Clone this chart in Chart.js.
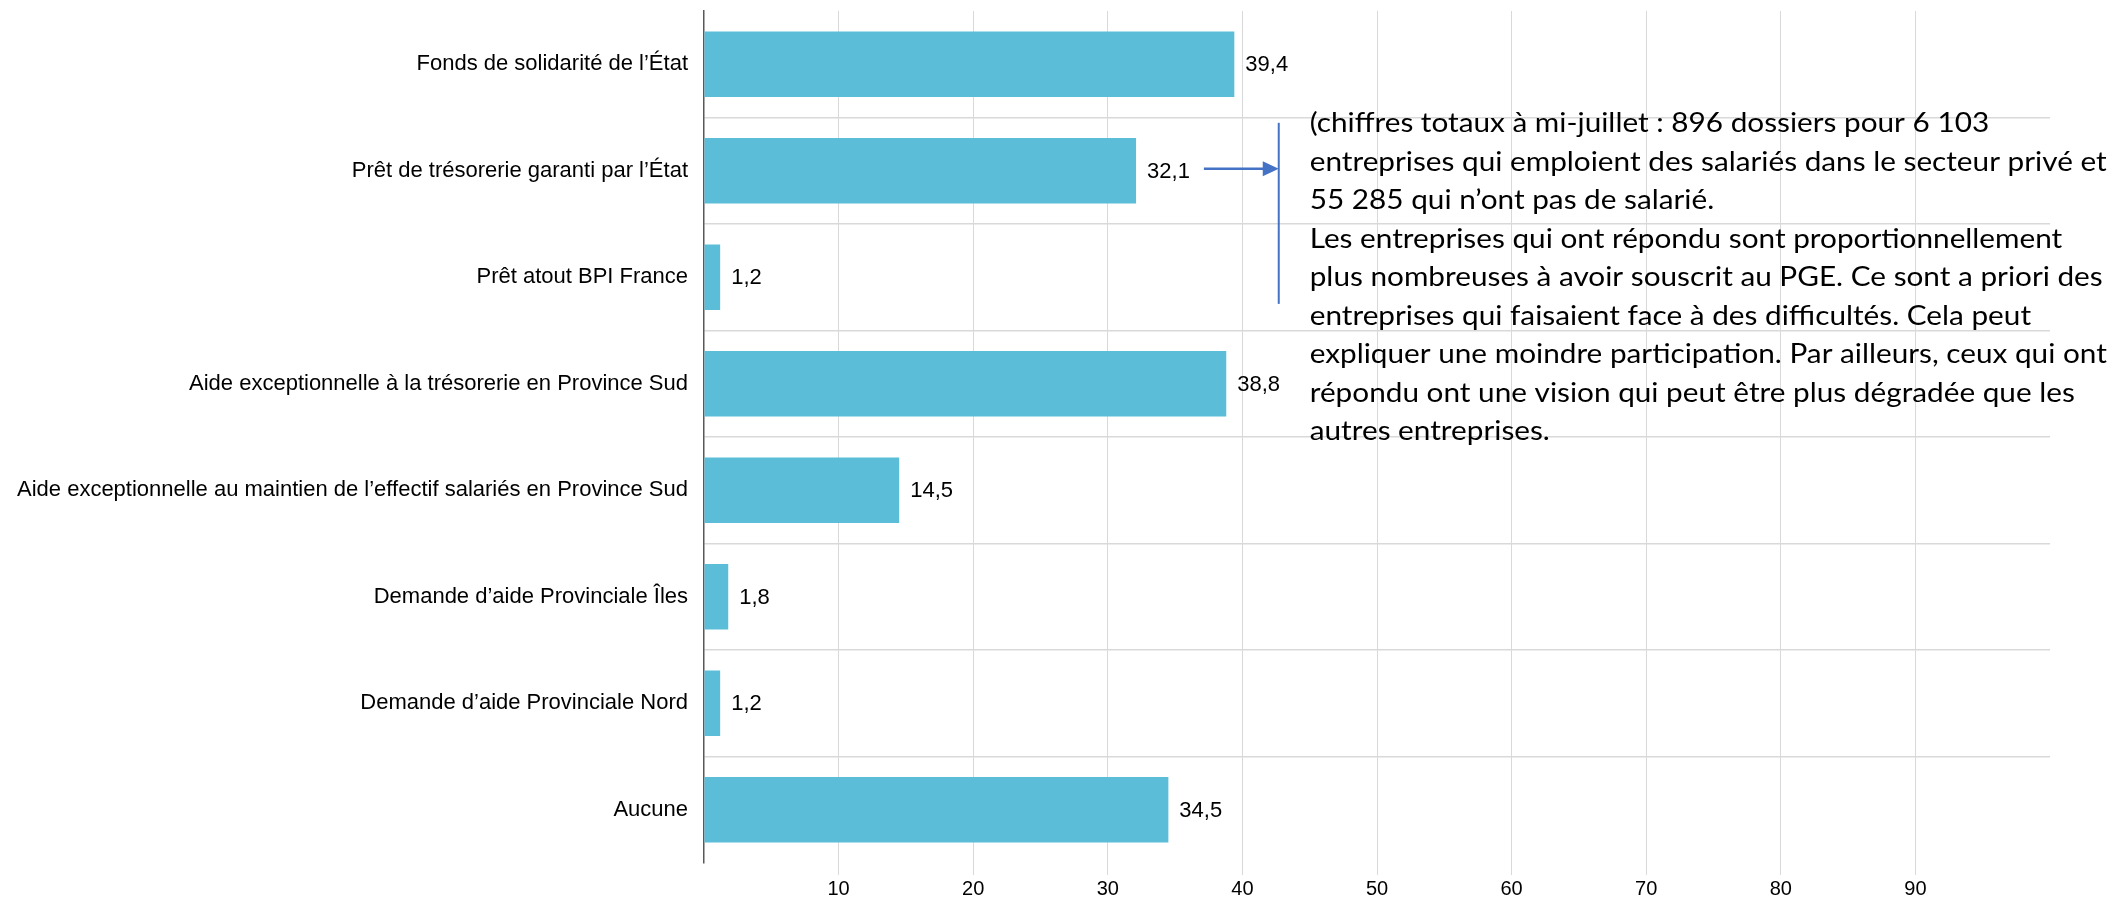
<!DOCTYPE html>
<html>
<head>
<meta charset="utf-8">
<script src="https://cdn.jsdelivr.net/npm/chart.js@4/dist/chart.umd.min.js"></script>
<style>
  html, body { margin: 0; padding: 0; background: #ffffff; }
  #wrap { width: 2116px; height: 899px; position: relative; }
</style>
</head>
<body>
<div id="wrap"><canvas id="c" width="2116" height="899"></canvas></div>
<script>
// ---- data ----
const categories = [
  "Fonds de solidarité de l\u2019État",
  "Prêt de trésorerie garanti par l\u2019État",
  "Prêt atout BPI France",
  "Aide exceptionnelle à la trésorerie en Province Sud",
  "Aide exceptionnelle au maintien de l\u2019effectif salariés en Province Sud",
  "Demande d\u2019aide Provinciale Îles",
  "Demande d\u2019aide Provinciale Nord",
  "Aucune"
];
const values = [39.4, 32.1, 1.2, 38.8, 14.5, 1.8, 1.2, 34.5];
const xTickValues = [10, 20, 30, 40, 50, 60, 70, 80, 90];
const noteLines = [
  "(chiffres totaux à mi-juillet : 896 dossiers pour 6 103",
  "entreprises qui emploient des salariés dans le secteur privé et",
  "55 285 qui n\u2019ont pas de salarié.",
  "Les entreprises qui ont répondu sont proportionnellement",
  "plus nombreuses à avoir souscrit au PGE. Ce sont a priori des",
  "entreprises qui faisaient face à des difficultés. Cela peut",
  "expliquer une moindre participation. Par ailleurs, ceux qui ont",
  "répondu ont une vision qui peut être plus dégradée que les",
  "autres entreprises."
];
const arrowCategoryIndex = 1;

const fmt = v => v.toFixed(1).replace('.', ',');
const LABEL_FONT = '22px "Liberation Sans", Arial, sans-serif';

const valueLabels = {
  id: 'valueLabels',
  afterDatasetsDraw(chart) {
    const ctx = chart.ctx;
    const meta = chart.getDatasetMeta(0);
    ctx.save();
    ctx.font = LABEL_FONT;
    ctx.fillStyle = '#000000';
    ctx.textBaseline = 'middle';
    ctx.textAlign = 'left';
    meta.data.forEach((bar, i) => {
      ctx.fillText(fmt(values[i]), bar.x + 11, bar.y + 1);
    });
    ctx.restore();
  }
};

const note = {
  id: 'note',
  afterDraw(chart) {
    const ctx = chart.ctx;
    const xs = chart.scales.x, ys = chart.scales.y;
    const band = ys.getPixelForTick(1) - ys.getPixelForTick(0);
    const bar = chart.getDatasetMeta(0).data[arrowCategoryIndex];
    ctx.save();
    ctx.font = LABEL_FONT;
    const lw = ctx.measureText(fmt(values[arrowCategoryIndex])).width;
    const x0 = bar.x + 11 + lw + 14;
    const xLine = xs.getPixelForValue(42.7);
    const y = bar.y - 2;
    ctx.strokeStyle = '#4472c4';
    ctx.fillStyle = '#4472c4';
    ctx.lineWidth = 2.5;
    ctx.beginPath();
    ctx.moveTo(x0, y);
    ctx.lineTo(xLine - 14, y);
    ctx.stroke();
    ctx.beginPath();
    ctx.moveTo(xLine, y);
    ctx.lineTo(xLine - 16, y - 7.5);
    ctx.lineTo(xLine - 16, y + 7.5);
    ctx.closePath();
    ctx.fill();
    ctx.lineWidth = 2;
    ctx.beginPath();
    ctx.moveTo(xLine, ys.getPixelForTick(1) - 0.45 * band);
    ctx.lineTo(xLine, ys.getPixelForTick(2) + 0.25 * band);
    ctx.stroke();

    // paragraph
    const tx = xs.getPixelForValue(45.0);
    const targetW = 797;
    const size = 26;
    ctx.font = size + 'px Lato, "Open Sans", sans-serif';
    const sx = targetW / ctx.measureText(noteLines[1]).width;
    ctx.fillStyle = '#000000';
    ctx.textBaseline = 'alphabetic';
    ctx.textAlign = 'left';
    const base = ys.getPixelForTick(1);
    noteLines.forEach((t, i) => {
      ctx.save();
      ctx.translate(tx, base + (i - 1) * 38.5);
      ctx.scale(sx, 1);
      ctx.fillText(t, 0, 0);
      ctx.restore();
    });
    ctx.restore();
  }
};

function build() {
  new Chart(document.getElementById('c'), {
    type: 'bar',
    data: {
      labels: categories,
      datasets: [{
        data: values,
        backgroundColor: '#5bbdd7',
        borderWidth: 0,
        barPercentage: 0.615,
        categoryPercentage: 1.0
      }]
    },
    options: {
      indexAxis: 'y',
      responsive: false,
      animation: false,
      devicePixelRatio: 1,
      layout: { padding: { left: 0, right: 66, top: 11, bottom: 0 } },
      plugins: { legend: { display: false }, tooltip: { enabled: false } },
      scales: {
        x: {
          type: 'linear',
          min: 0, max: 100,
          afterBuildTicks(scale) {
            scale.ticks = [0].concat(xTickValues, [100]).map(v => ({ value: v }));
          },
          afterFit(scale) {
            scale.height = 36;
            scale.paddingLeft = 0; scale.paddingRight = 0;
          },
          border: { display: false },
          grid: {
            color: c => (c.tick && (c.tick.value === 0 || c.tick.value === 100)) ? 'rgba(0,0,0,0)' : '#d9d9d9',
            lineWidth: 1,
            drawTicks: true,
            tickLength: 12
          },
          ticks: {
            autoSkip: false,
            maxRotation: 0,
            padding: 2,
            color: '#000000',
            font: { family: '"Liberation Sans", Arial, sans-serif', size: 20 },
            callback: v => xTickValues.includes(v) ? String(v) : ''
          }
        },
        y: {
          afterFit(scale) {
            scale.width = 704;
            scale.paddingTop = 0; scale.paddingBottom = 0;
          },
          border: { display: true, color: '#595959', width: 1.5 },
          grid: {
            color: c => (c.index === 0 || c.index === undefined) ? 'rgba(0,0,0,0)' : '#d9d9d9',
            lineWidth: 1.5,
            drawTicks: false
          },
          ticks: {
            autoSkip: false,
            padding: 16,
            color: '#000000',
            font: { family: '"Liberation Sans", Arial, sans-serif', size: 22 }
          }
        }
      }
    },
    plugins: [valueLabels, note]
  });
}

const loads = [
  '20px "Liberation Sans"', '26px Lato'
].map(f => document.fonts ? document.fonts.load(f) : Promise.resolve());
Promise.all(loads).then(build, build);
</script>
</body>
</html>
